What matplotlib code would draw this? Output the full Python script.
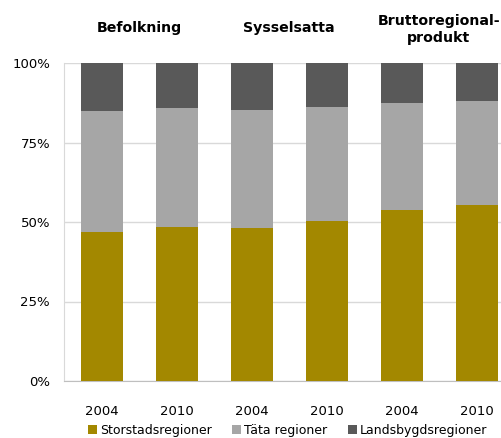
import matplotlib.pyplot as plt
import numpy as np

years = ['2004', '2010', '2004', '2010', '2004', '2010']
groups = ['Befolkning', 'Sysselsatta', 'Bruttoregional-\nprodukt']
series = ['Storstadsregioner', 'Täta regioner', 'Landsbygdsregioner']

# shares in percent, per bar
storstad = [46.9, 48.4, 48.1, 50.2, 53.8, 55.3]
tata = [38.0, 37.3, 37.1, 36.0, 33.6, 32.6]
landsbygd = [15.1, 14.3, 14.8, 13.8, 12.6, 12.1]

colors = ['#A38800', '#A6A6A6', '#595959']

fig = plt.figure(figsize=(5.01, 4.38), dpi=100)
ax = fig.add_axes([64 / 501, 57 / 438, 450 / 501, 318 / 438])

x = np.arange(len(years))
bottom = np.zeros(len(years))
for name, vals, c in zip(series, [storstad, tata, landsbygd], colors):
    ax.bar(x, vals, 0.56, bottom=bottom, color=c, label=name, zorder=3)
    bottom += np.array(vals)

ax.set_xlim(-0.5, 5.5)
ax.set_ylim(0, 100)
ax.set_yticks([0, 25, 50, 75, 100])
ax.set_yticklabels(['0%', '25%', '50%', '75%', '100%'])
ax.set_xticks(x)
ax.set_xticklabels(years)
ax.yaxis.grid(True, color='#D9D9D9', lw=1, zorder=0)
ax.tick_params(length=0, labelsize=9.5, colors='black')
ax.tick_params(axis='x', pad=17)
ax.tick_params(axis='y', pad=10)
for s in ['top', 'right']:
    ax.spines[s].set_visible(False)
ax.spines['left'].set_color('#D9D9D9')
ax.spines['bottom'].set_color('#BFBFBF')

# group headers above each pair of bars
for i, g in enumerate(groups):
    yt = 110.5 if '\n' in g else 111
    ax.text(2 * i + 0.5, yt, g, ha='center', va='center', linespacing=1.25,
            fontsize=10.2, fontweight='bold', clip_on=False)

ax.legend(loc='upper center', bbox_to_anchor=(0.497, -0.118), ncol=3, frameon=False,
          fontsize=9, handlelength=0.7, handleheight=0.7, handletextpad=0.25,
          columnspacing=1.65, borderaxespad=0)

fig.savefig('out.png', dpi=100)
